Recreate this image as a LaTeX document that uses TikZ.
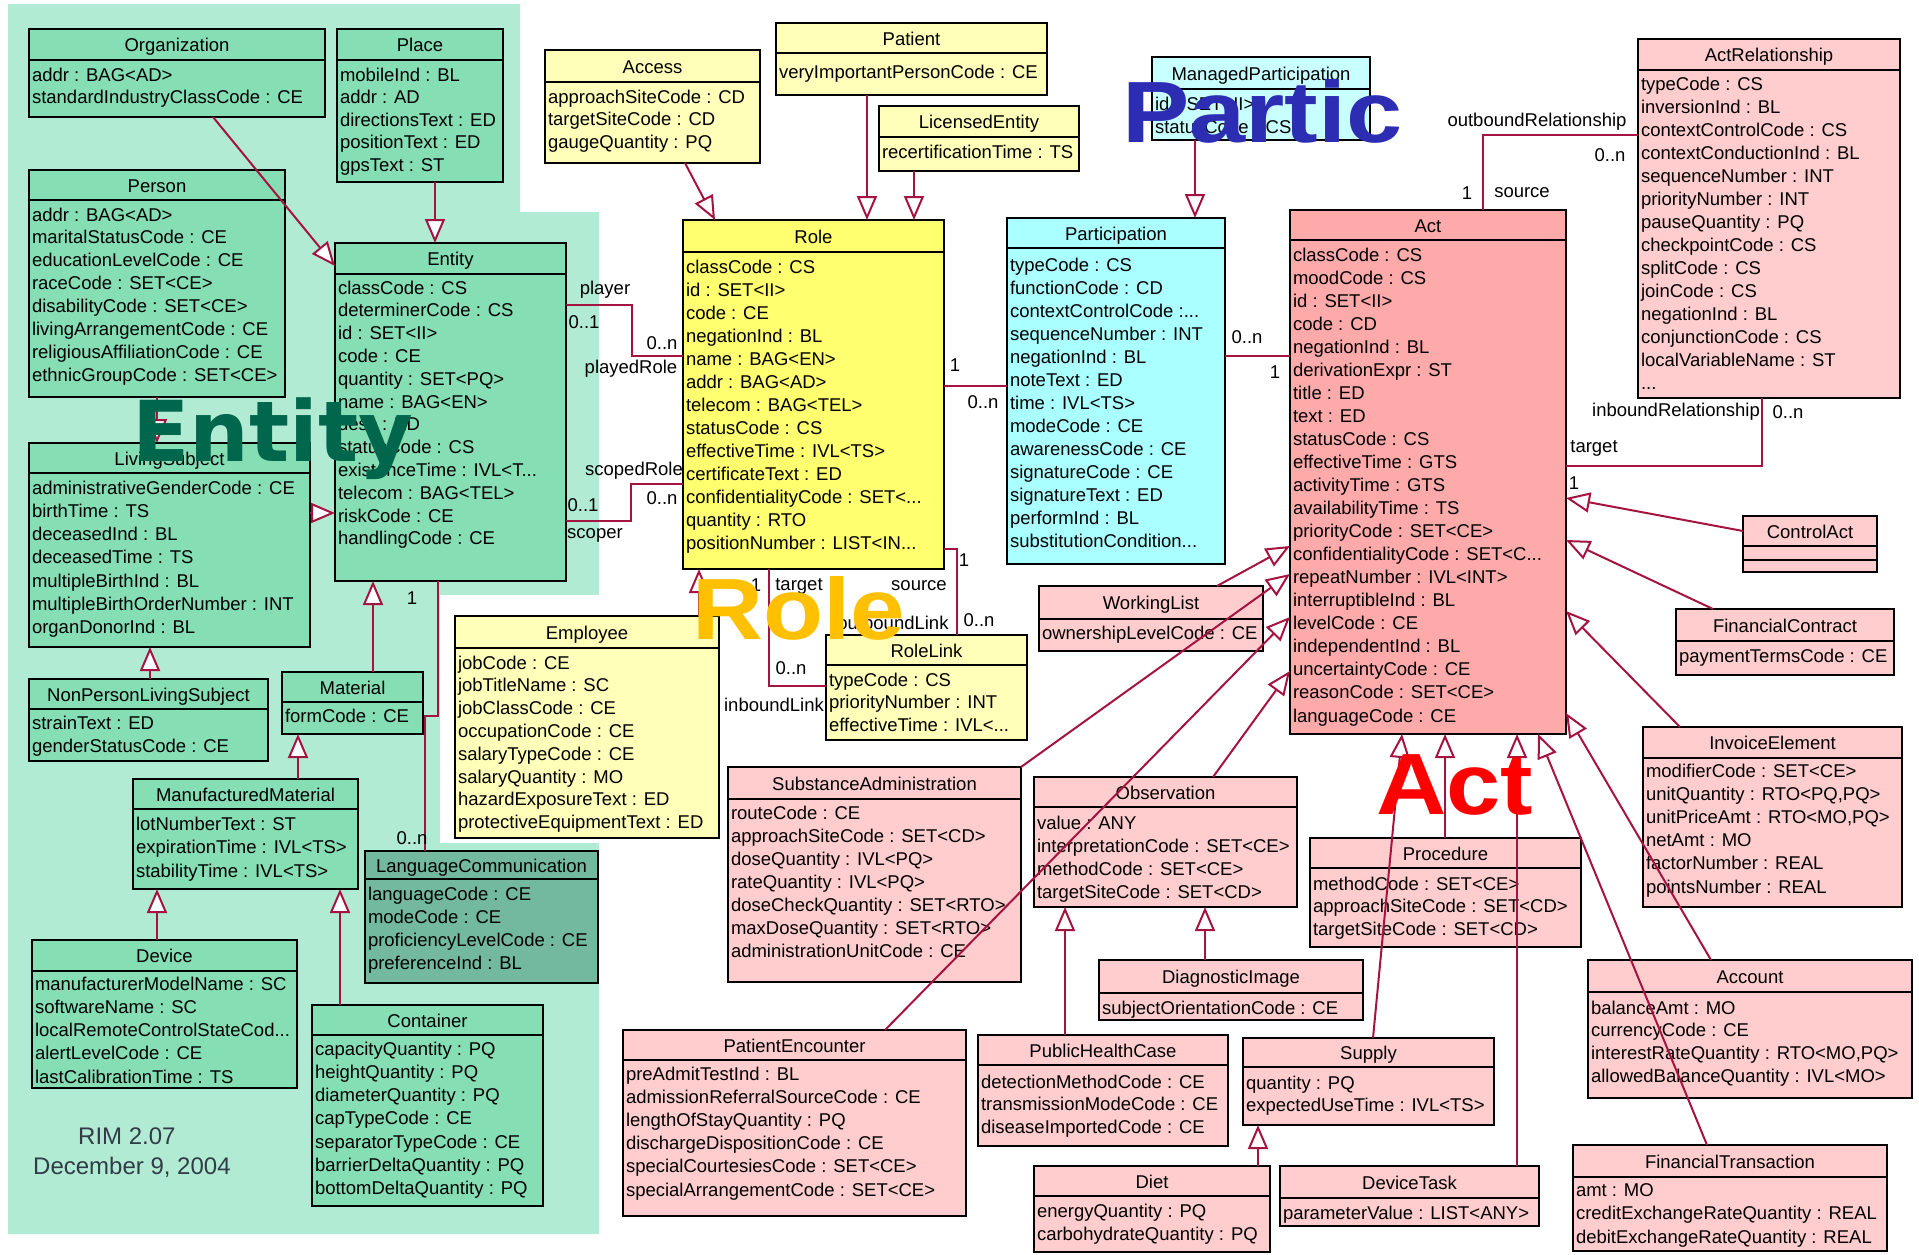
\documentclass[tikz,border=0pt]{standalone}
\usepackage{fontspec}
\usepackage{graphicx}
\setmainfont{Liberation Sans}
\newfontfamily\dejavu{DejaVu Sans}
\usetikzlibrary{arrows.meta}
\definecolor{entbg}{RGB}{178,235,212}
\definecolor{entbox}{RGB}{134,222,180}
\definecolor{langbox}{RGB}{115,185,160}
\definecolor{roleY}{RGB}{255,255,112}
\definecolor{paleY}{RGB}{255,255,185}
\definecolor{partC}{RGB}{170,255,255}
\definecolor{mpC}{RGB}{200,255,255}
\definecolor{actR}{RGB}{255,170,170}
\definecolor{paleR}{RGB}{255,205,205}
\definecolor{linec}{RGB}{165,20,65}
\definecolor{entityTxt}{RGB}{0,102,76}
\definecolor{particTxt}{RGB}{45,45,180}
\definecolor{roleTxt}{RGB}{255,192,0}
\definecolor{actTxt}{RGB}{255,0,0}
\definecolor{rimTxt}{RGB}{50,60,70}
\newcommand{\dts}{.\kern0pt.\kern0pt.}
\tikzset{
 umlbox/.style={draw=black, line width=2pt, inner sep=0pt, outer sep=0pt},
 gbox/.style={umlbox, fill=entbox},
 lbox/.style={umlbox, fill=langbox},
 ybox/.style={umlbox, fill=paleY},
 rbox/.style={umlbox, fill=roleY},
 cbox/.style={umlbox, fill=partC},
 mbox/.style={umlbox, fill=mpC},
 abox/.style={umlbox, fill=actR},
 pbox/.style={umlbox, fill=paleR},
 sepline/.style={draw=black, line width=2pt},
 txt/.style={inner sep=0pt, outer sep=0pt, font=\fontsize{18.5}{22}\selectfont},
 lbl/.style={txt},
 conn/.style={draw=linec, line width=2pt},
 gen/.style={conn, -{Triangle[fill=white, length=24pt, width=20pt]}},
}
% name, style, x1, y1, x2, y2, header y, title
\newcommand{\umlcls}[8]{%
  \node[#2, anchor=north west, minimum width={#5-#3}, minimum height={#6-#4}] (#1) at (#3,#4) {};
  \draw[sepline] (#1.west |- 0,#7) -- (#1.east |- 0,#7);
  \node[txt, anchor=base] (#1-title) at ({(#3+#5)/2},{(#4+#7)/2+7}) {#8};
}
% name, x1, first line centre y, spacing, list
\newcommand{\umlattrs}[5]{%
  \foreach \tx [count=\i from 0] in {#5} {
    \node[txt, anchor=base west] (#1-a\i) at ({#2+3},{#3+6+\i*#4}) {\tx};
  }
}
\begin{document}
\begin{tikzpicture}[x=1pt,y=-1pt]
\useasboundingbox (0,0) rectangle (1919,1254);
\fill[white] (0,0) rectangle (1919,1254);
% Entity background region
\fill[entbg] (8,4) -- (520,4) -- (520,212) -- (599,212) -- (599,1234) -- (8,1234) -- cycle;
\fill[white] (440,595) rectangle (600,843);

% ---------- Entity classes ----------
\umlcls{Organization}{gbox}{29}{29}{325}{117}{60}{Organization}
\umlattrs{Organization}{29}{75}{22}{addr : BAG<AD>, standardIndustryClassCode : CE}
\umlcls{Place}{gbox}{337}{29}{503}{182}{60}{Place}
\umlattrs{Place}{337}{75}{22.5}{mobileInd : BL, addr : AD, directionsText : ED, positionText : ED, gpsText : ST}
\umlcls{Person}{gbox}{29}{170}{285}{397}{200}{Person}
\umlattrs{Person}{29}{215}{22.9}{addr : BAG<AD>, maritalStatusCode : CE, educationLevelCode : CE, raceCode : SET<CE>, disabilityCode : SET<CE>, livingArrangementCode : CE, religiousAffiliationCode : CE, ethnicGroupCode : SET<CE>}
\umlcls{Entity}{gbox}{335}{243}{566}{581}{274}{Entity}
\umlattrs{Entity}{335}{288}{22.8}{classCode : CS, determinerCode : CS, id : SET<II>, code : CE, quantity : SET<PQ>, name : BAG<EN>, desc : ED, statusCode : CS, existenceTime : IVL<T\dts, telecom : BAG<TEL>, riskCode : CE, handlingCode : CE}
\umlcls{LivingSubject}{gbox}{29}{443}{310}{647}{473}{LivingSubject}
\umlattrs{LivingSubject}{29}{488}{23.3}{administrativeGenderCode : CE, birthTime : TS, deceasedInd : BL, deceasedTime : TS, multipleBirthInd : BL, multipleBirthOrderNumber : INT, organDonorInd : BL}
\umlcls{NPLS}{gbox}{29}{679}{268}{761}{709}{NonPersonLivingSubject}
\umlattrs{NPLS}{29}{723}{23}{strainText : ED, genderStatusCode : CE}
\umlcls{Material}{gbox}{282}{672}{423}{734}{702}{Material}
\umlattrs{Material}{282}{716}{23}{formCode : CE}
\umlcls{MM}{gbox}{133}{779}{358}{889}{809}{ManufacturedMaterial}
\umlattrs{MM}{133}{824}{23.5}{lotNumberText : ST, expirationTime : IVL<TS>, stabilityTime : IVL<TS>}
\umlcls{Device}{gbox}{32}{940}{297}{1088}{971}{Device}
\umlattrs{Device}{32}{984}{23.3}{manufacturerModelName : SC, softwareName : SC, localRemoteControlStateCod\dts, alertLevelCode : CE, lastCalibrationTime : TS}
\umlcls{Container}{gbox}{312}{1005}{543}{1206}{1035}{Container}
\umlattrs{Container}{312}{1049}{23.3}{capacityQuantity : PQ, heightQuantity : PQ, diameterQuantity : PQ, capTypeCode : CE, separatorTypeCode : CE, barrierDeltaQuantity : PQ, bottomDeltaQuantity : PQ}
\umlcls{LangComm}{lbox}{365}{851}{598}{983}{879}{LanguageCommunication}
\umlattrs{LangComm}{365}{894}{23.3}{languageCode : CE, modeCode : CE, proficiencyLevelCode : CE, preferenceInd : BL}

% ---------- Role classes ----------
\umlcls{Employee}{ybox}{455}{616}{719}{838}{648}{Employee}
\umlattrs{Employee}{455}{663}{22.8}{jobCode : CE, jobTitleName : SC, jobClassCode : CE, occupationCode : CE, salaryTypeCode : CE, salaryQuantity : MO, hazardExposureText : ED, protectiveEquipmentText : ED}
\umlcls{Access}{ybox}{545}{50}{760}{163}{82}{Access}
\umlattrs{Access}{545}{97}{22.5}{approachSiteCode : CD, targetSiteCode : CD, gaugeQuantity : PQ}
\umlcls{Patient}{ybox}{776}{23}{1047}{95}{53}{Patient}
\umlattrs{Patient}{776}{72}{22}{veryImportantPersonCode : CE}
\umlcls{LicensedEntity}{ybox}{879}{106}{1079}{171}{137}{LicensedEntity}
\umlattrs{LicensedEntity}{879}{152}{22}{recertificationTime : TS}
\umlcls{Role}{rbox}{683}{220}{944}{569}{252}{Role}
\umlattrs{Role}{683}{267}{23}{classCode : CS, id : SET<II>, code : CE, negationInd : BL, name : BAG<EN>, addr : BAG<AD>, telecom : BAG<TEL>, statusCode : CS, effectiveTime : IVL<TS>, certificateText : ED, confidentialityCode : SET<\dts, quantity : RTO, positionNumber : LIST<IN\dts}
\umlcls{RoleLink}{ybox}{826}{635}{1027}{740}{665}{RoleLink}
\umlattrs{RoleLink}{826}{680}{22.5}{typeCode : CS, priorityNumber : INT, effectiveTime : IVL<\dts}

% ---------- Participation ----------
\umlcls{ManagedPart}{mbox}{1152}{57}{1370}{140}{89}{ManagedParticipation}
\umlattrs{ManagedPart}{1152}{104}{23}{id : SET<II>, statusCode : CS}
\umlcls{Participation}{cbox}{1007}{218}{1225}{564}{248}{Participation}
\umlattrs{Participation}{1007}{265}{23}{typeCode : CS, functionCode : CD, contextControlCode :\dts, sequenceNumber : INT, negationInd : BL, noteText : ED, time : IVL<TS>, modeCode : CE, awarenessCode : CE, signatureCode : CE, signatureText : ED, performInd : BL, substitutionCondition\dts}

% ---------- Act classes ----------
\umlcls{Act}{abox}{1290}{210}{1566}{734}{240}{Act}
\umlattrs{Act}{1290}{255}{23.05}{classCode : CS, moodCode : CS, id : SET<II>, code : CD, negationInd : BL, derivationExpr : ST, title : ED, text : ED, statusCode : CS, effectiveTime : GTS, activityTime : GTS, availabilityTime : TS, priorityCode : SET<CE>, confidentialityCode : SET<C\dts, repeatNumber : IVL<INT>, interruptibleInd : BL, levelCode : CE, independentInd : BL, uncertaintyCode : CE, reasonCode : SET<CE>, languageCode : CE}
\umlcls{ActRel}{pbox}{1638}{39}{1900}{398}{70}{ActRelationship}
\umlattrs{ActRel}{1638}{84}{23}{typeCode : CS, inversionInd : BL, contextControlCode : CS, contextConductionInd : BL, sequenceNumber : INT, priorityNumber : INT, pauseQuantity : PQ, checkpointCode : CS, splitCode : CS, joinCode : CS, negationInd : BL, conjunctionCode : CS, localVariableName : ST, \dts}
\umlcls{ControlAct}{pbox}{1743}{516}{1877}{572}{546}{ControlAct}
\draw[sepline] (ControlAct.west |- 0,560) -- (ControlAct.east |- 0,560);
\umlcls{FinContract}{pbox}{1676}{609}{1894}{675}{641}{FinancialContract}
\umlattrs{FinContract}{1676}{656}{22}{paymentTermsCode : CE}
\umlcls{InvoiceElement}{pbox}{1643}{727}{1902}{907}{758}{InvoiceElement}
\umlattrs{InvoiceElement}{1643}{771}{23.2}{modifierCode : SET<CE>, {unitQuantity : RTO<PQ,PQ>}, {unitPriceAmt : RTO<MO,PQ>}, netAmt : MO, factorNumber : REAL, pointsNumber : REAL}
\umlcls{Account}{pbox}{1588}{960}{1912}{1098}{992}{Account}
\umlattrs{Account}{1588}{1008}{22.7}{balanceAmt : MO, currencyCode : CE, {interestRateQuantity : RTO<MO,PQ>}, allowedBalanceQuantity : IVL<MO>}
\umlcls{FinTrans}{pbox}{1573}{1145}{1887}{1251}{1177}{FinancialTransaction}
\umlattrs{FinTrans}{1573}{1190}{23.5}{amt : MO, creditExchangeRateQuantity : REAL, debitExchangeRateQuantity : REAL}
\umlcls{WorkingList}{pbox}{1039}{586}{1263}{651}{619}{WorkingList}
\umlattrs{WorkingList}{1039}{633}{22}{ownershipLevelCode : CE}
\umlcls{SubstAdmin}{pbox}{728}{767}{1021}{982}{799}{SubstanceAdministration}
\umlattrs{SubstAdmin}{728}{813}{23}{routeCode : CE, approachSiteCode : SET<CD>, doseQuantity : IVL<PQ>, rateQuantity : IVL<PQ>, doseCheckQuantity : SET<RTO>, maxDoseQuantity : SET<RTO>, administrationUnitCode : CE}
\umlcls{Observation}{pbox}{1034}{777}{1297}{907}{807}{Observation}
\umlattrs{Observation}{1034}{823}{23}{value : ANY, interpretationCode : SET<CE>, methodCode : SET<CE>, targetSiteCode : SET<CD>}
\umlcls{Procedure}{pbox}{1310}{838}{1581}{947}{868}{Procedure}
\umlattrs{Procedure}{1310}{884}{22.5}{methodCode : SET<CE>, approachSiteCode : SET<CD>, targetSiteCode : SET<CD>}
\umlcls{DiagImage}{pbox}{1099}{960}{1363}{1020}{993}{DiagnosticImage}
\umlattrs{DiagImage}{1099}{1008}{22}{subjectOrientationCode : CE}
\umlcls{PatientEnc}{pbox}{623}{1030}{966}{1216}{1060}{PatientEncounter}
\umlattrs{PatientEnc}{623}{1074}{23.2}{preAdmitTestInd : BL, admissionReferralSourceCode : CE, lengthOfStayQuantity : PQ, dischargeDispositionCode : CE, specialCourtesiesCode : SET<CE>, specialArrangementCode : SET<CE>}
\umlcls{PHC}{pbox}{978}{1035}{1228}{1146}{1065}{PublicHealthCase}
\umlattrs{PHC}{978}{1082}{22.5}{detectionMethodCode : CE, transmissionModeCode : CE, diseaseImportedCode : CE}
\umlcls{Supply}{pbox}{1243}{1038}{1494}{1125}{1067}{Supply}
\umlattrs{Supply}{1243}{1083}{22.5}{quantity : PQ, expectedUseTime : IVL<TS>}
\umlcls{Diet}{pbox}{1034}{1166}{1270}{1252}{1196}{Diet}
\umlattrs{Diet}{1034}{1211}{23}{energyQuantity : PQ, carbohydrateQuantity : PQ}
\umlcls{DeviceTask}{pbox}{1280}{1166}{1539}{1226}{1198}{DeviceTask}
\umlattrs{DeviceTask}{1280}{1213}{22}{parameterValue : LIST<ANY>}

% ---------- generalizations ----------
\draw[gen] (213,0 |- Organization.south) -- (Entity.west |- 0,266);
\draw[gen] (435,0 |- Place.south) -- (435,0 |- Entity.north);
\draw[gen] (LivingSubject.east |- 0,513) -- (Entity.west |- 0,513);
\draw[gen] (157,0 |- Person.south) -- (157,0 |- LivingSubject.north);
\draw[gen] (150,0 |- NPLS.north) -- (150,0 |- LivingSubject.south);
\draw[gen] (373,0 |- Material.north) -- (373,0 |- Entity.south);
\draw[gen] (298,0 |- MM.north) -- (298,0 |- Material.south);
\draw[gen] (157,0 |- Device.north) -- (157,0 |- MM.south);
\draw[gen] (340,0 |- Container.north) -- (340,0 |- MM.south);
\draw[gen] (699,0 |- Employee.north) -- (699,0 |- Role.south);
\draw[gen] (685,0 |- Access.south) -- (715,0 |- Role.north);
\draw[gen] (867,0 |- Patient.south) -- (867,0 |- Role.north);
\draw[gen] (914,0 |- LicensedEntity.south) -- (914,0 |- Role.north);
\draw[gen] (1195,0 |- ManagedPart.south) -- (1195,0 |- Participation.north);
\draw[gen] (1217,0 |- WorkingList.north) -- (Act.west |- 0,546);
\draw[gen] (SubstAdmin.north east) -- (Act.west |- 0,574);
\draw[gen] (885,0 |- PatientEnc.north) -- (Act.west |- 0,617);
\draw[gen] (1213,0 |- Observation.north) -- (Act.west |- 0,671);
\draw[gen] (1373,0 |- Supply.north) -- (1402,0 |- Act.south);
\draw[gen] (1445,0 |- Procedure.north) -- (1445,0 |- Act.south);
\draw[gen] (1517,0 |- DeviceTask.north) -- (1517,0 |- Act.south);
\draw[gen] (1707,0 |- FinTrans.north) -- (1538,0 |- Act.south);
\draw[gen] (ControlAct.west |- 0,531) -- (Act.east |- 0,498);
\draw[gen] (1713,0 |- FinContract.north) -- (Act.east |- 0,540);
\draw[gen] (1680,0 |- InvoiceElement.north) -- (Act.east |- 0,611);
\draw[gen] (1711,0 |- Account.north) -- (Act.east |- 0,713);
\draw[gen] (1065,0 |- PHC.north) -- (1065,0 |- Observation.south);
\draw[gen] (1205,0 |- DiagImage.north) -- (1205,0 |- Observation.south);
\draw[gen] (1258,0 |- Diet.north) -- (1258,0 |- Supply.south);

% ---------- associations ----------
\draw[conn] (Entity.east |- 0,305) -- (632,305) -- (632,356) -- (Role.west |- 0,356);
\draw[conn] (Entity.east |- 0,521) -- (631,521) -- (631,484) -- (Role.west |- 0,484);
\draw[conn] (Role.east |- 0,386) -- (Participation.west |- 0,386);
\draw[conn] (Participation.east |- 0,356) -- (Act.west |- 0,356);
\draw[conn] (Role.east |- 0,549) -- (957,549) -- (957,0 |- RoleLink.north);
\draw[conn] (769,0 |- Role.south) -- (769,686) -- (RoleLink.west |- 0,686);
\draw[conn] (1483,0 |- Act.north) -- (1483,135) -- (ActRel.west |- 0,135);
\draw[conn] (1762,0 |- ActRel.south) -- (1762,466) -- (Act.east |- 0,466);
\draw[conn] (438,0 |- Entity.south) -- (438,716) -- (425,716) -- (425,0 |- LangComm.north);

% ---------- association labels ----------
\node[lbl] (l1) at (605,290) {player};
\node[lbl] (l2) at (584,322) {0..1};
\node[lbl] (l3) at (662,343) {0..n};
\node[lbl] (l4) at (631,369) {playedRole};
\node[lbl] (l5) at (634,471) {scopedRole};
\node[lbl] (l6) at (662,498) {0..n};
\node[lbl] (l7) at (583,505) {0..1};
\node[lbl] (l8) at (595,535) {scoper};
\node[lbl] (l9) at (955,365) {1};
\node[lbl] (l10) at (983,402) {0..n};
\node[lbl] (l11) at (1247,337) {0..n};
\node[lbl] (l12) at (1275,372) {1};
\node[lbl] (l13) at (964,560) {1};
\node[lbl] (l14) at (919,586) {source};
\node[lbl] (l15) at (979,620) {0..n};
\node[lbl] (l16) at (893,623) {outboundLink};
\node[lbl] (l17) at (756,585) {1};
\node[lbl] (l18) at (799,586) {target};
\node[lbl] (l19) at (791,668) {0..n};
\node[lbl] (l20) at (774,705) {inboundLink};
\node[lbl] (l21) at (412,598) {1};
\node[lbl] (l22) at (412,838) {0..n};
\node[lbl] (l23) at (1537,122) {outboundRelationship};
\node[lbl] (l24) at (1610,155) {0..n};
\node[lbl] (l25) at (1467,193) {1};
\node[lbl] (l26) at (1522,193) {source};
\node[lbl] (l27) at (1676,412) {inboundRelationship};
\node[lbl] (l28) at (1788,412) {0..n};
\node[lbl] (l29) at (1594,448) {target};
\node[lbl] (l30) at (1574,483) {1};

% ---------- version text ----------
\node[anchor=base west, inner sep=0pt, text=rimTxt, font=\fontsize{24}{24}\selectfont] (rim) at (78,1144) {RIM 2.07};
\node[anchor=base west, inner sep=0pt, text=rimTxt, font=\fontsize{24}{24}\selectfont] (date) at (33,1174) {December 9, 2004};

% ---------- overlay headings ----------
\node[anchor=base west, inner sep=0pt, text=entityTxt, font={\dejavu\bfseries\fontsize{84}{84}\selectfont}] (hEntity) at (132,461) {Entity};
\node[anchor=base west, inner sep=0pt, text=particTxt, font={\bfseries\fontsize{87}{87}\selectfont}] (hPartic) at (1122,142) {\scalebox{1.16}[1]{Partic}};
\node[anchor=base west, inner sep=0pt, text=roleTxt, font={\bfseries\fontsize{87}{87}\selectfont}] (hRole) at (692,639) {\scalebox{1.13}[1]{Role}};
\node[anchor=base west, inner sep=0pt, text=actTxt, font={\bfseries\fontsize{87}{87}\selectfont}] (hAct) at (1376,814) {\scalebox{1.12}[1]{Act}};
\end{tikzpicture}
\end{document}
